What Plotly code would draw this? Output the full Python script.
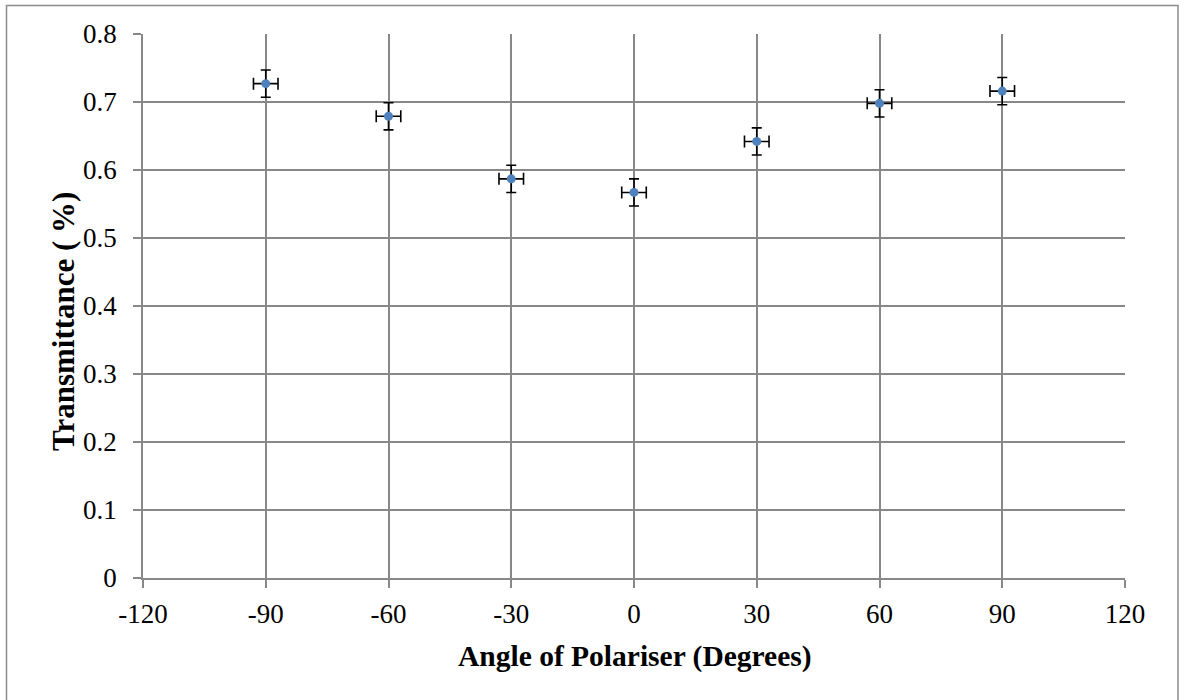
import plotly.graph_objects as go

angles = [-90, -60, -30, 0, 30, 60, 90]
transmittance = [0.727, 0.679, 0.587, 0.567, 0.642, 0.698, 0.716]
y_err = [0.02] * 7
x_err = [3] * 7
x_ticks = [-120, -90, -60, -30, 0, 30, 60, 90, 120]
y_ticks = [0, 0.1, 0.2, 0.3, 0.4, 0.5, 0.6, 0.7, 0.8]

W, H = 1186, 700
L, R, T, B = 143, 61, 34, 122
pw, ph = W - L - R, H - T - B

def px(x):
    return (x - L) / pw

def py(y):
    return (H - B - y) / ph

grid = "#888888"
font = "Liberation Serif, Times New Roman, serif"

fig = go.Figure()
fig.add_trace(go.Scatter(
    x=angles, y=transmittance, mode="markers",
    marker=dict(color="#4F81BD", size=9),
    error_y=dict(type="data", array=y_err, color="black", thickness=1.6, width=5),
    error_x=dict(type="data", array=x_err, color="black", thickness=1.6, width=6),
    showlegend=False,
))

fig.update_layout(
    width=W, height=H,
    margin=dict(l=L, r=R, t=T, b=B),
    paper_bgcolor="white", plot_bgcolor="white",
    font=dict(family=font, size=27, color="black"),
    xaxis=dict(
        range=[-120, 120], tickvals=x_ticks, ticktext=[str(v) for v in x_ticks],
        showgrid=True, gridcolor=grid, gridwidth=1.5,
        showline=True, linecolor=grid, linewidth=1.5,
        ticks="outside", ticklen=8, tickcolor=grid, tickwidth=1.5,
        ticklabelstandoff=3,
        zeroline=False,
    ),
    yaxis=dict(
        range=[0, 0.8], tickvals=y_ticks, ticktext=[("%g" % v) for v in y_ticks],
        showgrid=True, gridcolor=grid, gridwidth=1.5,
        showline=True, linecolor=grid, linewidth=1.5,
        ticks="outside", ticklen=8, tickcolor=grid, tickwidth=1.5,
        ticklabelstandoff=11,
        zeroline=False,
    ),
    annotations=[
        dict(text="<b>Angle of Polariser (Degrees)</b>", xref="paper", yref="paper",
             x=px(635), y=py(656), xanchor="center", yanchor="middle",
             showarrow=False, font=dict(size=29.5)),
        dict(text="<b>Transmittance ( %)</b>", xref="paper", yref="paper",
             x=px(63), y=py(322), xanchor="center", yanchor="middle", textangle=-90,
             showarrow=False, font=dict(size=31)),
    ],
    shapes=[dict(
        type="rect", xref="paper", yref="paper",
        x0=px(6.5), x1=px(1178), y0=py(5.5), y1=py(710),
        line=dict(color="#8c8c8c", width=1.5), fillcolor="rgba(0,0,0,0)", layer="below",
    )],
)

fig.write_html("out.html")
